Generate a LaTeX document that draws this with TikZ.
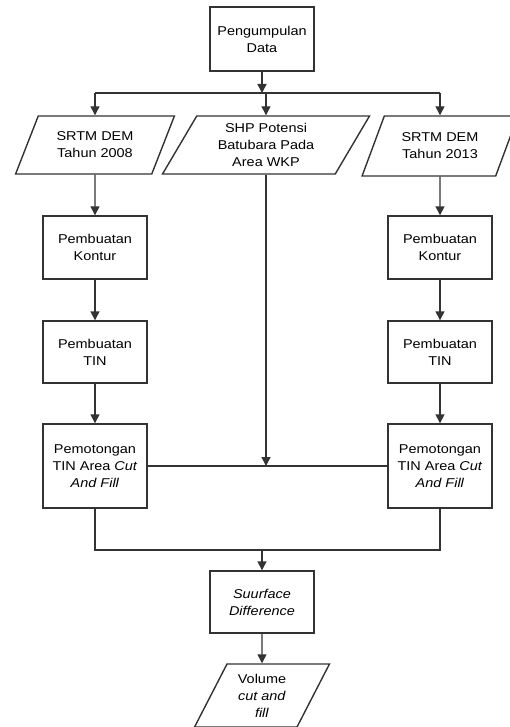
\documentclass[tikz,border=0pt]{standalone}
\usepackage{fontspec}
\setmainfont[FakeStretch=1.13]{Liberation Sans}
\usetikzlibrary{calc,arrows.meta,shapes.geometric}

\tikzset{
  box/.style={draw=black!80,line width=1.4pt,rectangle,minimum width=104pt,
    minimum height=62pt,align=center,font=\fontsize{12.8}{17}\selectfont},
  data/.style={draw=black!80,line width=1.4pt,trapezium,trapezium stretches=true,
    trapezium left angle=63,trapezium right angle=117,minimum height=58pt,
    align=center,font=\fontsize{12.8}{17}\selectfont},
  line/.style={draw=black!80,line width=1.4pt},
  arr/.style={line,-{Triangle[length=9pt,width=9pt]}}
}

\begin{document}
\begin{tikzpicture}[x=1pt,y=-1pt]
          \useasboundingbox (0,0) rectangle (510,727);
          \node[box,minimum height=64pt] (kumpul) at (262,39) {Pengumpulan\\Data};
          \node[data,minimum width=159pt] (demA) at (95,145) {SRTM DEM\\Tahun 2008};
          \node[data,minimum width=207pt] (shp) at (266,145) {SHP Potensi\\Batubara Pada\\Area WKP};
          \node[data,minimum width=156pt,minimum height=60pt] (demB) at (440,146) {SRTM DEM\\Tahun 2013};
          \node[box,minimum height=63pt] (konturA) at (95,247.5) {Pembuatan\\Kontur};
          \node[box,minimum height=63pt] (konturB) at (440,247.5) {Pembuatan\\Kontur};
          \node[box] (tinA) at (95,352) {Pembuatan\\TIN};
          \node[box] (tinB) at (440,352) {Pembuatan\\TIN};
          \node[box,minimum height=84pt] (potongA) at (95,466) {Pemotongan\\TIN Area \textit{Cut}\\\textit{And Fill}};
          \node[box,minimum height=84pt] (potongB) at (440,466) {Pemotongan\\TIN Area \textit{Cut}\\\textit{And Fill}};
          \node[box] (selisih) at (262,602) {\textit{Suurface}\\\textit{Difference}};
          \node[data,minimum width=135pt,minimum height=63pt] (volume) at (262,695.5) {Volume\\\textit{cut and}\\\textit{fill}};
          \coordinate (bagi) at (262,93);
          \coordinate (gabung) at (262,550);
          \draw[arr] (kumpul) -- (bagi);
          \draw[line] (demA |- bagi) -- (demB |- bagi);
          \draw[arr] (demA |- bagi) -- (demA);
          \draw[arr] (shp |- bagi) -- (shp);
          \draw[arr] (demB |- bagi) -- (demB);
          \draw[arr] (demA) -- (konturA);
          \draw[arr] (konturA) -- (tinA);
          \draw[arr] (tinA) -- (potongA);
          \draw[arr] (demB) -- (konturB);
          \draw[arr] (konturB) -- (tinB);
          \draw[arr] (tinB) -- (potongB);
          \draw[line] (potongA) -- (potongB);
          \draw[arr] (shp) -- (shp |- potongA);
          \draw[line] (potongA) -- (potongA |- gabung) -- (potongB |- gabung) -- (potongB);
          \draw[arr] (gabung) -- (selisih);
          \draw[arr] (selisih) -- (volume);
        \end{tikzpicture}
\end{document}
